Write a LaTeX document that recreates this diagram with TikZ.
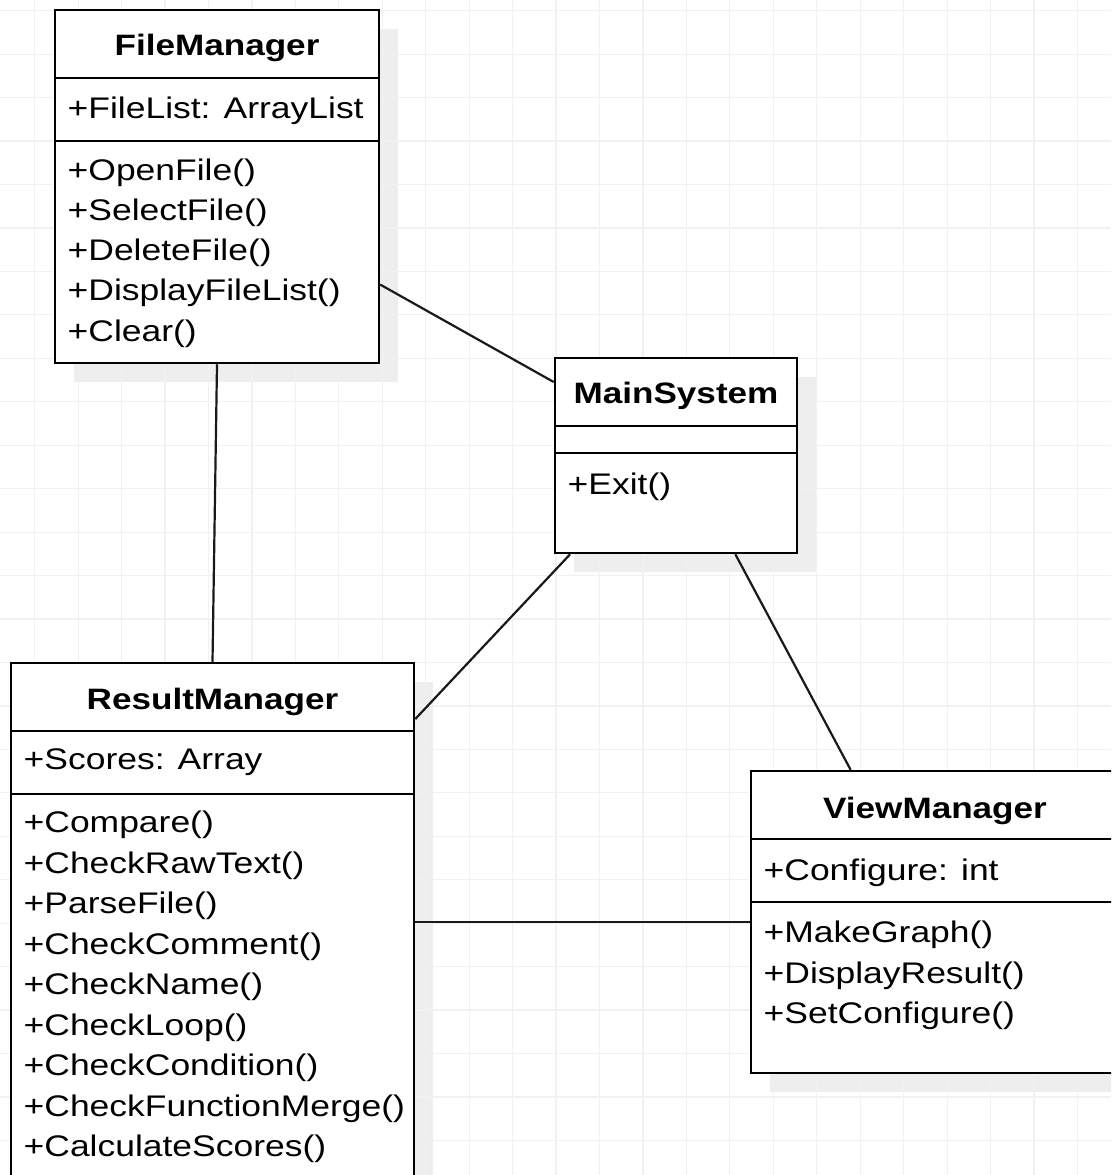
\documentclass[tikz,border=0pt]{standalone}
\usepackage{fontspec}
\setmainfont[FakeStretch=1.19]{Liberation Sans}
\usetikzlibrary{calc}
\definecolor{gridgray}{HTML}{F1F1F1}
\definecolor{shadowgray}{HTML}{EEEEEE}
\tikzset{
	gridline/.style={line width=1.2pt, color=gridgray},
	umlshadow/.style={fill=shadowgray},
	umlbox/.style={draw=black, line width=2.5pt, fill=white, inner sep=0pt},
	umlrule/.style={line width=2.5pt, color=black},
	umlname/.style={anchor=base, inner sep=0pt, font=\fontsize{29.5}{36}\selectfont\bfseries},
	umlmember/.style={anchor=base west, inner sep=0pt, font=\fontsize{29.8}{36}\selectfont},
	assoc/.style={line width=2.2pt, color=black!90}
}

\begin{document}
\begin{tikzpicture}[x=1pt, y=-1pt]
		%%%%% START %%%%%
		\useasboundingbox (0, 0) rectangle (1111, 1175);
		\clip (0, 0) rectangle (1111, 1175);
		\fill[white] (0, 0) rectangle (1111, 1175);
		
		\fill[umlshadow] (74, 29) rectangle (398, 382);
		\fill[umlshadow] (574, 377) rectangle (816, 572);
		\fill[umlshadow] (30, 682) rectangle (433, 1214);
		\fill[umlshadow] (770, 790) rectangle (1138, 1092);
		
		\foreach \gx in {0,...,26}
			\draw[gridline] ({-8.8+43.45*\gx}, 0) -- ++(0, 1175);
		\foreach \gy in {0,...,27}
			\draw[gridline] (0, {10.7+43.45*\gy}) -- ++(1111, 0);
		
		% FileManager
		\node[umlbox, minimum width=324pt, minimum height=353pt] (fm) at (217, 186.5) {};
		\draw[umlrule] (55, 78) -- (379, 78);
		\draw[umlrule] (55, 141) -- (379, 141);
		\node[umlname] (fm-name) at (217, 55) {FileManager};
		\node[umlmember] (fm-attr) at (67.5, 118) {+FileList: ArrayList};
		\foreach \m [count=\k from 0] in {+OpenFile(), +SelectFile(), +DeleteFile(), +DisplayFileList(), +Clear()}
			\node[umlmember] (fm-op\k) at (67.5, {180+40.3*\k}) {\m};
		
		% MainSystem
		\node[umlbox, minimum width=242pt, minimum height=195pt] (ms) at (676, 455.5) {};
		\draw[umlrule] (555, 426) -- (797, 426);
		\draw[umlrule] (555, 453) -- (797, 453);
		\node[umlname] (ms-name) at (676, 403) {MainSystem};
		\node[umlmember] (ms-op0) at (567.5, 494) {+Exit()};
		
		% ResultManager
		\node[umlbox, minimum width=403pt, minimum height=532pt] (rm) at (212.5, 929) {};
		\draw[umlrule] (11, 731) -- (414, 731);
		\draw[umlrule] (11, 794) -- (414, 794);
		\node[umlname] (rm-name) at (212.5, 709) {ResultManager};
		\node[umlmember] (rm-attr) at (23.5, 769.5) {+Scores: Array};
		\foreach \m [count=\k from 0] in {+Compare(), +CheckRawText(), +ParseFile(), +CheckComment(), +CheckName(), +CheckLoop(), +CheckCondition(), +CheckFunctionMerge(), +CalculateScores()}
			\node[umlmember] (rm-op\k) at (23.5, {832.7+40.5*\k}) {\m};
		
		% ViewManager
		\node[umlbox, minimum width=368pt, minimum height=302pt] (vm) at (935, 922) {};
		\draw[umlrule] (751, 839) -- (1119, 839);
		\draw[umlrule] (751, 902) -- (1119, 902);
		\node[umlname] (vm-name) at (935, 818.5) {ViewManager};
		\node[umlmember] (vm-attr) at (763.5, 880) {+Configure: int};
		\foreach \m [count=\k from 0] in {+MakeGraph(), +DisplayResult(), +SetConfigure()}
			\node[umlmember] (vm-op\k) at (763.5, {942.7+40.3*\k}) {\m};
		
		% associations
		\draw[assoc] (fm.-31.6) -- (ms.149.8);
		\draw[assoc] (fm.south) -- (rm.north);
		\draw[assoc] (ms.223.7) -- (rm.46.5);
		\draw[assoc] (ms.-59.7) -- (vm.119.7);
		\draw[assoc] (rm.east |- vm.west) -- (vm.west);
		%%%%% END %%%%%
	\end{tikzpicture}
\end{document}
